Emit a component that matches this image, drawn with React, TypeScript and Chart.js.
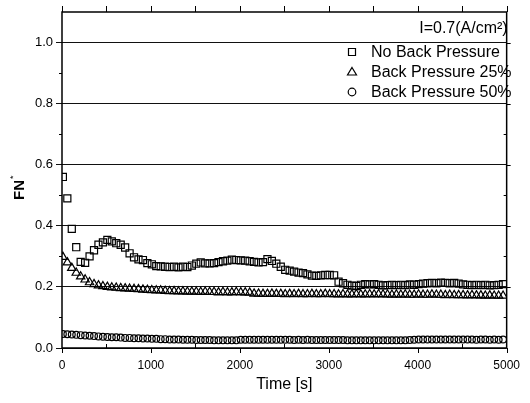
import React, { useEffect, useRef } from 'react';
import { Chart, registerables } from 'chart.js';

Chart.register(...registerables);

const times = [10, 60, 110, 160, 210, 260, 310, 360, 410, 460, 510, 560, 610, 660, 710, 760, 810, 860, 910, 960,
  1010, 1060, 1110, 1160, 1210, 1260, 1310, 1360, 1410, 1460, 1510, 1560, 1610, 1660, 1710, 1760, 1810, 1860, 1910, 1960,
  2010, 2060, 2110, 2160, 2210, 2260, 2310, 2360, 2410, 2460, 2510, 2560, 2610, 2660, 2710, 2760, 2810, 2860, 2910, 2960,
  3010, 3060, 3110, 3160, 3210, 3260, 3310, 3360, 3410, 3460, 3510, 3560, 3610, 3660, 3710, 3760, 3810, 3860, 3910, 3960,
  4010, 4060, 4110, 4160, 4210, 4260, 4310, 4360, 4410, 4460, 4510, 4560, 4610, 4660, 4710, 4760, 4810, 4860, 4910, 4960];

const noBackPressure = [0.56, 0.49, 0.39, 0.33, 0.282, 0.279, 0.30, 0.32, 0.338, 0.346,
  0.354, 0.349, 0.343, 0.338, 0.329, 0.31, 0.297, 0.29, 0.288, 0.278,
  0.274, 0.268, 0.267, 0.266, 0.265, 0.266, 0.264, 0.266, 0.265, 0.270,
  0.276, 0.280, 0.277, 0.277, 0.278, 0.281, 0.284, 0.286, 0.289, 0.288,
  0.287, 0.286, 0.284, 0.282, 0.280, 0.281, 0.291, 0.285, 0.276, 0.266,
  0.256, 0.253, 0.250, 0.247, 0.245, 0.241, 0.237, 0.236, 0.238, 0.239,
  0.239, 0.238, 0.217, 0.212, 0.207, 0.204, 0.203, 0.207, 0.209, 0.208,
  0.209, 0.207, 0.205, 0.206, 0.207, 0.206, 0.207, 0.206, 0.208, 0.207,
  0.209, 0.211, 0.212, 0.213, 0.212, 0.214, 0.213, 0.212, 0.213, 0.211,
  0.208, 0.207, 0.206, 0.207, 0.206, 0.207, 0.205, 0.206, 0.207, 0.209];

const backPressure25 = [0.298, 0.280, 0.262, 0.246, 0.234, 0.224, 0.215, 0.209, 0.205, 0.202,
  0.200, 0.198, 0.197, 0.196, 0.195, 0.194, 0.193, 0.192, 0.191, 0.190,
  0.189, 0.188, 0.188, 0.187, 0.186, 0.186, 0.185, 0.185, 0.184, 0.184,
  0.184, 0.183, 0.184, 0.183, 0.183, 0.182, 0.183, 0.182, 0.182, 0.183,
  0.182, 0.182, 0.181, 0.178, 0.178, 0.177, 0.177, 0.178, 0.177, 0.177,
  0.176, 0.177, 0.176, 0.177, 0.176, 0.176, 0.177, 0.176, 0.176, 0.177,
  0.176, 0.176, 0.175, 0.176, 0.175, 0.175, 0.176, 0.175, 0.175, 0.176,
  0.175, 0.176, 0.175, 0.175, 0.174, 0.175, 0.174, 0.175, 0.174, 0.174,
  0.175, 0.174, 0.174, 0.175, 0.174, 0.174, 0.173, 0.174, 0.173, 0.173,
  0.173, 0.172, 0.173, 0.172, 0.172, 0.171, 0.172, 0.171, 0.171, 0.171];

const backPressure50 = [0.046, 0.045, 0.044, 0.043, 0.042, 0.041, 0.040, 0.039, 0.038, 0.037,
  0.036, 0.035, 0.035, 0.034, 0.033, 0.033, 0.032, 0.032, 0.031, 0.031,
  0.030, 0.030, 0.029, 0.029, 0.028, 0.028, 0.028, 0.027, 0.027, 0.027,
  0.026, 0.026, 0.026, 0.026, 0.025, 0.025, 0.025, 0.025, 0.025, 0.025,
  0.027, 0.027, 0.027, 0.027, 0.027, 0.027, 0.027, 0.027, 0.027, 0.027,
  0.027, 0.027, 0.026, 0.027, 0.026, 0.027, 0.026, 0.026, 0.026, 0.026,
  0.026, 0.026, 0.026, 0.026, 0.025, 0.025, 0.025, 0.025, 0.025, 0.025,
  0.025, 0.025, 0.025, 0.025, 0.025, 0.025, 0.025, 0.025, 0.026, 0.027,
  0.028, 0.028, 0.028, 0.028, 0.028, 0.028, 0.028, 0.028, 0.028, 0.028,
  0.028, 0.028, 0.028, 0.027, 0.028, 0.028, 0.027, 0.028, 0.027, 0.028];

const seriesLabels = ['No Back Pressure', 'Back Pressure 25%', 'Back Pressure 50%'];
const seriesStyles = ['rect', 'triangle', 'circle'];
const annotationText = 'I=0.7(A/cm²)';
const xTitle = 'Time [s]';
const yTitle = 'FN';
const yTitleSup = '*';
const xMinorTicks = [0, 500, 1000, 1500, 2000, 2500, 3000, 3500, 4000, 4500, 5000];
const yMinorTicks = [0.1, 0.3, 0.5, 0.7, 0.9];
const yMajorTicks = [0.2, 0.4, 0.6, 0.8, 1.0];

const FONT = '"Liberation Sans", Arial, sans-serif';

const decorPlugin = {
  id: 'decor',
  afterDraw(chart: any) {
    const ctx = chart.ctx;
    const { left, right, top, bottom } = chart.chartArea;
    const xs = chart.scales.x;
    const ys = chart.scales.y;
    ctx.save();
    ctx.strokeStyle = '#000';
    ctx.fillStyle = '#000';
    // frame
    ctx.lineWidth = 1.5;
    ctx.strokeRect(left, top, right - left, bottom - top);
    ctx.lineWidth = 1;
    ctx.beginPath();
    xMinorTicks.forEach((v) => {
      const px = Math.round(xs.getPixelForValue(v)) + 0.5;
      if (v % 1000 === 0) {
        ctx.moveTo(px, bottom);
        ctx.lineTo(px, bottom + 5);
      } else {
        ctx.moveTo(px, bottom);
        ctx.lineTo(px, bottom - 4);
      }
      ctx.moveTo(px, top);
      ctx.lineTo(px, top - 6);
    });
    yMinorTicks.forEach((v) => {
      const py = Math.round(ys.getPixelForValue(v)) + 0.5;
      ctx.moveTo(left, py);
      ctx.lineTo(left - 3, py);
      ctx.moveTo(right, py);
      ctx.lineTo(right - 3, py);
    });
    yMajorTicks.forEach((v) => {
      const py = Math.round(ys.getPixelForValue(v)) + 0.5;
      ctx.moveTo(right, py);
      ctx.lineTo(right + 4, py);
    });
    ctx.stroke();

    // annotation
    ctx.font = `16px ${FONT}`;
    ctx.textAlign = 'right';
    ctx.textBaseline = 'alphabetic';
    ctx.fillText(annotationText, right + 1, 33);

    // legend
    const textX = 371;
    const markX = 352;
    const baselines = [57, 77, 97];
    ctx.textAlign = 'left';
    seriesLabels.forEach((lab, i) => {
      ctx.fillText(lab, textX, baselines[i]);
      const cy = baselines[i] - 5;
      ctx.beginPath();
      ctx.lineWidth = 1.2;
      if (seriesStyles[i] === 'rect') {
        ctx.rect(markX - 3.5, cy - 3.5, 7, 7);
      } else if (seriesStyles[i] === 'triangle') {
        ctx.moveTo(markX, cy - 4.5);
        ctx.lineTo(markX + 4.5, cy + 3);
        ctx.lineTo(markX - 4.5, cy + 3);
        ctx.closePath();
      } else {
        ctx.arc(markX, cy, 3.8, 0, Math.PI * 2);
      }
      ctx.stroke();
    });

    // x title
    ctx.font = `16px ${FONT}`;
    ctx.textAlign = 'center';
    ctx.textBaseline = 'middle';
    ctx.fillText(xTitle, (left + right) / 2, 385);

    // y title
    ctx.translate(20, 190);
    ctx.rotate(-Math.PI / 2);
    ctx.font = `bold 15px ${FONT}`;
    const w = ctx.measureText(yTitle).width;
    ctx.textAlign = 'left';
    ctx.textBaseline = 'middle';
    ctx.fillText(yTitle, -w / 2, 0);
    ctx.font = `9px ${FONT}`;
    ctx.fillText(yTitleSup, w / 2 + 1, -6);
    ctx.restore();
  },
};

export default function App() {
  const ref = useRef<HTMLCanvasElement | null>(null);
  useEffect(() => {
    if (!ref.current) return;
    Chart.defaults.font.family = FONT;
    Chart.defaults.color = '#000';
    const mk = (vals: number[]) => times.map((t, i) => ({ x: t, y: vals[i] }));
    const chart = new Chart(ref.current, {
      type: 'scatter',
      data: {
        datasets: [
          {
            label: seriesLabels[0],
            data: mk(noBackPressure),
            pointStyle: 'rect',
            pointRadius: 5,
            borderWidth: 1.2,
            borderColor: '#000',
            backgroundColor: 'rgba(0,0,0,0)',
          },
          {
            label: seriesLabels[1],
            data: mk(backPressure25),
            pointStyle: 'triangle',
            pointRadius: 4.8,
            borderWidth: 1.2,
            borderColor: '#000',
            backgroundColor: 'rgba(0,0,0,0)',
          },
          {
            label: seriesLabels[2],
            data: mk(backPressure50),
            pointStyle: 'circle',
            pointRadius: 3.4,
            borderWidth: 1.2,
            borderColor: '#000',
            backgroundColor: 'rgba(0,0,0,0)',
          },
        ],
      },
      options: {
        animation: false,
        responsive: false,
        maintainAspectRatio: false,
        layout: { padding: { top: 12, right: 19, left: 0, bottom: 0 } },
        plugins: { legend: { display: false }, tooltip: { enabled: false } },
        scales: {
          x: {
            type: 'linear',
            min: 0,
            max: 5000,
            grid: { display: false, drawTicks: false },
            border: { display: false },
            ticks: {
              stepSize: 1000,
              padding: 10,
              maxRotation: 0,
              font: { size: 12, family: FONT },
              color: '#000',
              callback: (v: any) => String(v),
            },
            afterFit: (s: any) => {
              s.height = 55;
            },
          },
          y: {
            type: 'linear',
            min: 0,
            max: 1.1,
            grid: { color: '#111', lineWidth: 1, tickLength: 6, drawTicks: true },
            border: { display: false },
            ticks: {
              stepSize: 0.2,
              includeBounds: false,
              padding: 3,
              font: { size: 13, family: FONT },
              color: '#000',
              callback: (v: any) => Number(v).toFixed(1),
            },
            afterFit: (s: any) => {
              s.width = 62;
            },
          },
        },
      },
      plugins: [decorPlugin],
    });
    return () => chart.destroy();
  }, []);
  return (
    <div style={{ position: 'fixed', left: 0, top: 0, width: 530, height: 403, background: '#fff' }}>
      <canvas ref={ref} width={530} height={403} style={{ width: 530, height: 403, display: 'block' }} />
    </div>
  );
}
